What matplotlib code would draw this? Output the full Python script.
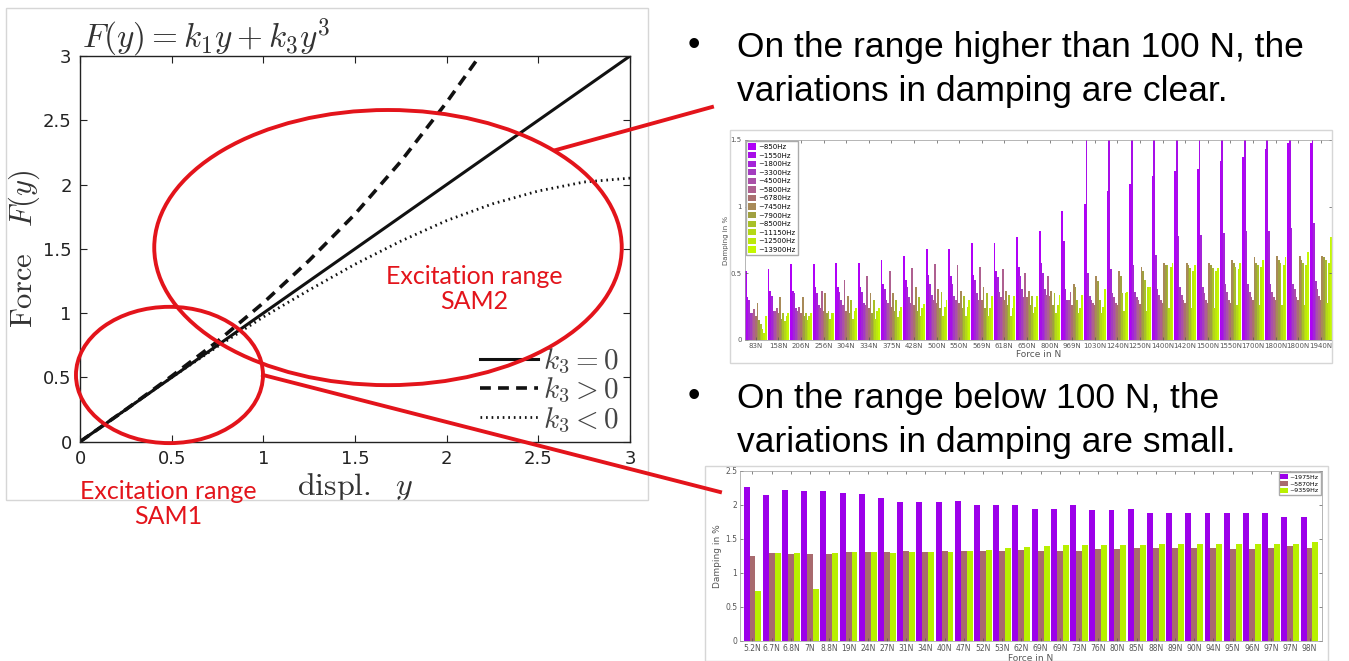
import numpy as np
import matplotlib.pyplot as plt
from matplotlib.patches import Ellipse, Rectangle
from matplotlib.lines import Line2D

plt.rcParams['mathtext.fontset'] = 'cm'

# ---- left chart: F(y) = k1 y + k3 y^3 ----
displ = [0, 0.25, 0.5, 0.75, 1.0, 1.25, 1.5, 1.75, 2.0, 2.25, 2.5, 2.75, 3.0]
force_lin = [0, 0.25, 0.5, 0.75, 1.0, 1.25, 1.5, 1.75, 2.0, 2.25, 2.5, 2.75, 3.0]
displ_hard = [0, 0.25, 0.5, 0.75, 1.0, 1.25, 1.5, 1.75, 2.0, 2.18]
force_hard = [0, 0.25, 0.51, 0.78, 1.08, 1.41, 1.77, 2.18, 2.64, 3.0]
force_soft = [0, 0.25, 0.50, 0.74, 0.97, 1.18, 1.38, 1.56, 1.72, 1.85, 1.95, 2.02, 2.05]

# ---- top right chart: damping above 100 N ----
forces_high = ['83N', '158N', '206N', '256N', '304N', '334N', '375N', '428N', '500N',
               '550N', '569N', '618N', '650N', '800N', '969N', '1030N', '1240N', '1250N',
               '1400N', '1420N', '1500N', '1550N', '1700N', '1800N', '1800N', '1940N']
freqs_high = ['~850Hz', '~1550Hz', '~1800Hz', '~3300Hz', '~4500Hz', '~5800Hz', '~6780Hz',
              '~7450Hz', '~7900Hz', '~8500Hz', '~11150Hz', '~12500Hz', '~13900Hz']
d850 = [0.52, 0.53, 0.57, 0.57, 0.58, 0.58, 0.60, 0.63, 0.68, 0.68, 0.73, 0.73, 0.77, 0.82,
        0.97, 1.02, 1.12, 1.17, 1.23, 1.27, 1.28, 1.34, 1.37, 1.43, 1.48, 1.48]
d1550 = [0.32, 0.37, 0.37, 0.40, 0.40, 0.40, 0.42, 0.45, 0.49, 0.48, 0.49, 0.52, 0.55, 0.58,
         0.74, 1.55, 1.55, 1.55, 1.55, 1.55, 1.55, 1.55, 1.55, 1.55, 1.55, 1.55]
d1800 = [0.30, 0.33, 0.35, 0.35, 0.36, 0.36, 0.38, 0.40, 0.42, 0.42, 0.45, 0.47, 0.48, 0.50,
         0.38, 0.50, 0.53, 0.56, 0.64, 0.78, 0.79, 0.80, 0.82, 0.82, 0.84, 0.88]
d3300 = [0.20, 0.22, 0.24, 0.26, 0.30, 0.28, 0.30, 0.32, 0.34, 0.33, 0.35, 0.36, 0.38, 0.38,
         0.30, 0.33, 0.35, 0.36, 0.38, 0.40, 0.40, 0.42, 0.42, 0.42, 0.42, 0.44]
d4500 = [0.20, 0.22, 0.22, 0.24, 0.26, 0.26, 0.28, 0.28, 0.30, 0.30, 0.30, 0.32, 0.32, 0.34,
         0.30, 0.30, 0.32, 0.32, 0.34, 0.34, 0.35, 0.36, 0.36, 0.36, 0.38, 0.38]
d5800 = [0.23, 0.24, 0.25, 0.37, 0.45, 0.48, 0.52, 0.54, 0.57, 0.56, 0.55, 0.53, 0.50, 0.48,
         0.36, 0.28, 0.28, 0.30, 0.30, 0.30, 0.30, 0.30, 0.32, 0.32, 0.32, 0.33]
d6780 = [0.18, 0.20, 0.20, 0.22, 0.22, 0.24, 0.25, 0.26, 0.28, 0.28, 0.30, 0.30, 0.32, 0.33,
         0.26, 0.26, 0.26, 0.27, 0.28, 0.28, 0.28, 0.28, 0.30, 0.30, 0.30, 0.30]
d7450 = [0.28, 0.32, 0.32, 0.35, 0.33, 0.35, 0.35, 0.40, 0.38, 0.37, 0.40, 0.37, 0.37, 0.37,
         0.42, 0.48, 0.52, 0.55, 0.58, 0.58, 0.58, 0.60, 0.62, 0.63, 0.63, 0.63]
d7900 = [0.15, 0.16, 0.18, 0.20, 0.20, 0.20, 0.22, 0.22, 0.24, 0.24, 0.24, 0.26, 0.26, 0.26,
         0.40, 0.44, 0.48, 0.52, 0.56, 0.56, 0.56, 0.58, 0.58, 0.60, 0.60, 0.62]
d8500 = [0.12, 0.20, 0.20, 0.22, 0.30, 0.30, 0.30, 0.32, 0.36, 0.33, 0.35, 0.34, 0.33, 0.35,
         0.30, 0.30, 0.35, 0.45, 0.56, 0.54, 0.54, 0.55, 0.56, 0.58, 0.58, 0.60]
d11150 = [0.08, 0.14, 0.15, 0.16, 0.16, 0.16, 0.17, 0.18, 0.18, 0.18, 0.18, 0.18, 0.20, 0.20,
          0.20, 0.20, 0.22, 0.22, 0.24, 0.24, 0.24, 0.26, 0.26, 0.26, 0.26, 0.28]
d12500 = [0.05, 0.18, 0.18, 0.20, 0.22, 0.22, 0.22, 0.24, 0.25, 0.25, 0.24, 0.24, 0.25, 0.26,
          0.24, 0.25, 0.35, 0.40, 0.55, 0.52, 0.52, 0.53, 0.55, 0.56, 0.56, 0.58]
d13900 = [0.18, 0.20, 0.20, 0.20, 0.24, 0.24, 0.25, 0.27, 0.30, 0.30, 0.33, 0.33, 0.33, 0.34,
          0.34, 0.38, 0.36, 0.40, 0.58, 0.56, 0.54, 0.58, 0.60, 0.62, 0.66, 0.77]

# ---- bottom right chart: damping below 100 N ----
forces_low = ['5.2N', '6.7N', '6.8N', '7N', '8.8N', '19N', '24N', '27N', '31N', '34N',
              '40N', '47N', '52N', '53N', '62N', '69N', '69N', '73N', '76N', '80N',
              '85N', '88N', '89N', '90N', '94N', '95N', '96N', '97N', '97N', '98N']
freqs_low = ['~1975Hz', '~5870Hz', '~9359Hz']
d1975 = [2.26, 2.15, 2.22, 2.21, 2.21, 2.17, 2.16, 2.11, 2.05, 2.05, 2.05, 2.06, 2.00, 2.00,
         2.00, 1.94, 1.94, 2.00, 1.93, 1.93, 1.94, 1.88, 1.88, 1.88, 1.88, 1.88, 1.88, 1.88,
         1.83, 1.83]
d5870 = [1.25, 1.29, 1.28, 1.28, 1.28, 1.31, 1.31, 1.31, 1.33, 1.31, 1.33, 1.33, 1.33, 1.33,
         1.34, 1.33, 1.33, 1.33, 1.35, 1.35, 1.37, 1.37, 1.37, 1.37, 1.37, 1.35, 1.35, 1.37,
         1.39, 1.37]
d9359 = [0.73, 1.29, 1.29, 0.77, 1.29, 1.31, 1.31, 1.30, 1.31, 1.31, 1.31, 1.33, 1.34, 1.37,
         1.38, 1.40, 1.41, 1.41, 1.41, 1.41, 1.41, 1.42, 1.42, 1.42, 1.43, 1.42, 1.42, 1.42,
         1.43, 1.45]

W, H = 1349, 661
RED = '#e3141b'


def fx(px):
    return px / W


def fy(py):
    return 1 - py / H


fig = plt.figure(figsize=(W / 100, H / 100), dpi=100)

# light frames of the pasted figures
for x0, y0, x1, y1 in [(6, 8, 648, 500), (730, 130, 1332, 363), (705, 466, 1328, 661)]:
    fig.add_artist(Rectangle((fx(x0), fy(y1)), fx(x1) - fx(x0), fy(y0) - fy(y1),
                             transform=fig.transFigure, fill=False, ec='#d6d6d6', lw=1))

# ---- left chart ----
ax = fig.add_axes([fx(80), fy(441.7), fx(630) - fx(80), fy(56) - fy(441.7)])
ax.plot(displ, force_lin, color='#111111', lw=2.2, label=r'$k_3 = 0$')
ax.plot(displ_hard, force_hard, color='#111111', lw=2.6, ls=(0, (3, 2)), label=r'$k_3 > 0$')
ax.plot(displ, force_soft, color='#111111', lw=2.0, ls=(0, (0.6, 1.4)), label=r'$k_3 < 0$')
ax.set_xlim(0, 3)
ax.set_ylim(0, 3)
ax.set_xticks([0, 0.5, 1, 1.5, 2, 2.5, 3])
ax.set_xticklabels(['0', '0.5', '1', '1.5', '2', '2.5', '3'])
ax.set_yticks([0, 0.5, 1, 1.5, 2, 2.5, 3])
ax.set_yticklabels(['0', '0.5', '1', '1.5', '2', '2.5', '3'])
ax.tick_params(direction='in', top=True, right=True, labelsize=13, length=5, width=0.8,
               colors='#222222', pad=6)
for sp in ax.spines.values():
    sp.set_linewidth(1.0)
    sp.set_color('#222222')
ax.set_xlabel(r'$\mathrm{displ.}\ \ y$', fontsize=23, color='#333333', labelpad=2)
ax.set_ylabel(r'$\mathrm{Force}\quad F(y)$', fontsize=22, color='#333333', labelpad=1)
fig.text(fx(82), fy(38), r'$F(y) = k_1y + k_3y^3$', fontsize=24, color='#333333',
         va='center', ha='left')
leg = ax.legend(loc='lower right', bbox_to_anchor=(1.0, -0.012), frameon=False, fontsize=21,
                handlelength=2.0, handletextpad=0.15, labelspacing=0.0, borderaxespad=0.0)
for t in leg.get_texts():
    t.set_color('#444444')

ax.add_patch(Ellipse((1.68, 1.51), 2.55, 2.14, fill=False, ec=RED, lw=2.8, clip_on=False,
                     zorder=10))
ax.add_patch(Ellipse((0.488, 0.519), 1.02, 1.06, fill=False, ec=RED, lw=2.8, clip_on=False,
                     zorder=10))
fig.add_artist(Line2D([fx(556), fx(712)], [fy(150), fy(107)], transform=fig.transFigure,
                      color=RED, lw=2.8))
fig.add_artist(Line2D([fx(263), fx(720)], [fy(375), fy(492)], transform=fig.transFigure,
                      color=RED, lw=2.8))
fig.text(fx(474), fy(289), 'Excitation range\nSAM2', ha='center', va='center', color=RED,
         fontsize=18, family='Lato', linespacing=1.15)
fig.text(fx(168), fy(504), 'Excitation range\nSAM1', ha='center', va='center', color=RED,
         fontsize=18, family='Lato', linespacing=1.15)

# ---- bullet text ----
bullet_font = dict(fontsize=25.5, family=['Liberation Sans', 'DejaVu Sans'], color='black',
                   va='baseline')
fig.text(fx(688), fy(55), '\u2022', **bullet_font)
fig.text(fx(737), fy(57), 'On the range higher than 100 N, the', **bullet_font)
fig.text(fx(737), fy(101), 'variations in damping are clear.', **bullet_font)
fig.text(fx(688), fy(406), '\u2022', **bullet_font)
fig.text(fx(737), fy(408), 'On the range below 100 N, the', **bullet_font)
fig.text(fx(737), fy(452), 'variations in damping are small.', **bullet_font)

# ---- top right chart ----
colors_high = ['#b000f8', '#a80ee8', '#a424d8', '#a43cc0', '#aa50a8', '#ae6090', '#aa7070',
               '#a88a58', '#a0a040', '#a8c028', '#b4d818', '#bce80c', '#c4f800']
series_high = [d850, d1550, d1800, d3300, d4500, d5800, d6780, d7450, d7900, d8500,
               d11150, d12500, d13900]
ax2 = fig.add_axes([fx(744.5), fy(340), fx(1332) - fx(744.5), fy(140) - fy(340)])
xg = np.arange(1, len(forces_high) + 1)
bw = 0.95 / len(series_high)
for i, (vals, lab, col) in enumerate(zip(series_high, freqs_high, colors_high)):
    ax2.bar(xg - 0.475 + bw * (i + 0.5), vals, width=bw * 1.1, color=col, label=lab, lw=0)
ax2.set_xlim(0.5, len(forces_high) + 0.5)
ax2.set_ylim(0, 1.5)
ax2.set_xticks(xg)
ax2.set_xticklabels(forces_high)
ax2.set_yticks([0, 0.5, 1, 1.5])
ax2.set_yticklabels(['0', '0.5', '1', '1.5'])
ax2.tick_params(labelsize=5, length=2, width=0.5, colors='#555555', pad=2, top=True,
                right=True, direction='in')
for sp in ax2.spines.values():
    sp.set_linewidth(0.5)
    sp.set_color('#999999')
ax2.set_xlabel('Force in N', fontsize=6.5, color='#555555', labelpad=1)
ax2.set_ylabel('Damping in %', fontsize=5, color='#555555', labelpad=1)
ax2.legend(loc='upper left', fontsize=5, handlelength=1.2, handleheight=1.0,
           labelspacing=0.3, handletextpad=0.3, borderpad=0.3, borderaxespad=0.2,
           framealpha=1, edgecolor='#aaaaaa', fancybox=False)

# ---- bottom right chart ----
colors_low = ['#9c00ea', '#a86a6e', '#b8f000']
series_low = [d1975, d5870, d9359]
ax3 = fig.add_axes([fx(740), fy(641), fx(1322) - fx(740), fy(471) - fy(641)])
xl = np.arange(1, len(forces_low) + 1)
bw3 = 0.31
for i, (vals, lab, col) in enumerate(zip(series_low, freqs_low, colors_low)):
    ax3.bar(xl + (i - 1) * bw3, vals, width=bw3, color=col, label=lab, lw=0)
ax3.set_xlim(0.35, len(forces_low) + 0.65)
ax3.set_ylim(0, 2.5)
ax3.set_xticks(xl)
ax3.set_xticklabels(forces_low)
ax3.set_yticks([0, 0.5, 1, 1.5, 2, 2.5])
ax3.set_yticklabels(['0', '0.5', '1', '1.5', '2', '2.5'])
ax3.tick_params(labelsize=5.5, length=2, width=0.5, colors='#555555', pad=2, top=True,
                right=True, direction='in')
for sp in ax3.spines.values():
    sp.set_linewidth(0.5)
    sp.set_color('#999999')
ax3.set_xlabel('Force in N', fontsize=6.5, color='#555555', labelpad=1)
ax3.set_ylabel('Damping in %', fontsize=6.5, color='#555555', labelpad=2)
ax3.legend(loc='upper right', fontsize=4.5, handlelength=1.2, handleheight=0.9,
           labelspacing=0.15, handletextpad=0.3, borderpad=0.3, borderaxespad=0.2,
           framealpha=1, edgecolor='#aaaaaa', fancybox=False)

fig.savefig('out.png', dpi=100)
